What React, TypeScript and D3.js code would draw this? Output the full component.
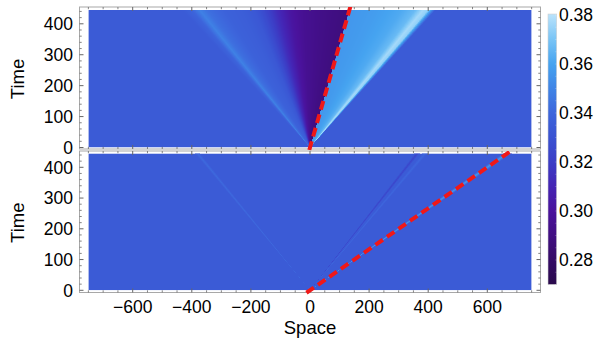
import React from "react";
import * as d3 from "d3";

// ---- data ----
const xTicks = [-600, -400, -200, 0, 200, 400, 600];
const yTicks = [0, 100, 200, 300, 400];
const colorTicks = [0.28, 0.3, 0.32, 0.34, 0.36, 0.38];

// colour map (value -> colour)
const colorStopValues = [0.27, 0.28, 0.29, 0.3, 0.31, 0.32, 0.33, 0.335, 0.34, 0.35, 0.36, 0.37, 0.38];
const colorStopColors = [
  "#2a0a4c", "#350b66", "#400e82", "#4a129c", "#4424b4", "#3c3dc6", "#3a52d2",
  "#3b5bd6", "#3d66dc", "#3f84e6", "#45a3f0", "#78c4f6", "#b8e2fb",
];

const backgroundValue = 0.335;

// self-similar profiles: value as a function of x/t
const topProfileXi = [-0.97, -0.9, -0.84, -0.78, -0.65, -0.5, -0.42, -0.35, -0.25, -0.15, -0.05, 0.1, 0.298, 0.302, 0.5, 0.7, 0.8, 0.86, 0.9, 0.93, 0.955];
const topProfileValue = [0.335, 0.339, 0.349, 0.343, 0.338, 0.336, 0.333, 0.326, 0.313, 0.302, 0.296, 0.292, 0.288, 0.356, 0.358, 0.362, 0.367, 0.377, 0.374, 0.352, 0.335];

const bottomProfileXi = [-0.875, -0.855, -0.835, 0.795, 0.815, 0.835, 0.855, 0.875, 0.895, 1.465, 1.5, 1.535];
const bottomProfileValue = [0.335, 0.341, 0.335, 0.335, 0.324, 0.335, 0.335, 0.34, 0.335, 0.335, 0.356, 0.335];

// red dashed fronts: x = speed * t
const frontSpeeds = [0.3, 1.5];

const X_DATA = [-750, 750];
const X_FRAME = [-780, 780];
const T_MAX = 445;

const W = 595;
const H = 339;

const xScale = d3.scaleLinear().domain([0, 600]).range([310, 487.3]);

const panels = [
  {
    xi: topProfileXi, val: topProfileValue, speed: frontSpeeds[0],
    y0: 147.5, y400: 23.8, frameTop: 7, frameBottom: 149,
  },
  {
    xi: bottomProfileXi, val: bottomProfileValue, speed: frontSpeeds[1],
    y0: 290.3, y400: 167.3, frameTop: 151, frameBottom: 292.5,
  },
];

const colorScale = d3
  .scaleLinear<string>()
  .domain(colorStopValues)
  .range(colorStopColors)
  .interpolate(d3.interpolateRgb)
  .clamp(true);

const XI_STEP = 0.003;
const xiSamples = d3.range(-1.0, 1.6, XI_STEP);

const FONT = "'Liberation Sans', Arial, Helvetica, sans-serif";

function Panel({ p, idx }: { p: any; idx: number }) {
  const yScale = d3.scaleLinear().domain([0, 400]).range([p.y0, p.y400]);
  const xiDomain = [p.xi[0] - 1, ...p.xi, p.xi[p.xi.length - 1] + 1];
  const valRange = [backgroundValue, ...p.val, backgroundValue];
  const profile = d3.scaleLinear().domain(xiDomain).range(valRange).clamp(true);
  const dx0 = xScale(X_DATA[0]);
  const dx1 = xScale(X_DATA[1]);
  const dyTop = yScale(T_MAX);
  const dyBot = yScale(0);
  const fx0 = xScale(X_FRAME[0]);
  const fx1 = xScale(X_FRAME[1]);
  const Tm = 470;
  const wedges = xiSamples
    .map((a) => {
      const b = a + XI_STEP;
      const v = profile((a + b) / 2);
      const c = colorScale(v);
      const pts = [
        [xScale(0), yScale(0)],
        [xScale(a * Tm), yScale(Tm)],
        [xScale(b * Tm), yScale(Tm)],
      ];
      return { pts: pts.map((q) => q.join(",")).join(" "), c, v };
    })
    .filter((w) => Math.abs(w.v - backgroundValue) > 1e-5);

  const xMinor = d3.range(-750, 751, 50).filter((v) => v % 200 !== 0);
  const yMinor = d3.range(0, 451, 20).filter((v) => v % 100 !== 0);
  const tickCol = "#666";
  const majL = 4;
  const minL = 2.2;

  const clipId = `clip${idx}`;
  const fclipId = `fclip${idx}`;
  return (
    <g>
      <defs>
        <clipPath id={clipId}>
          <rect x={dx0} y={dyTop} width={dx1 - dx0} height={dyBot - dyTop} />
        </clipPath>
        <clipPath id={fclipId}>
          <rect x={fx0} y={p.frameTop} width={fx1 - fx0} height={p.frameBottom - p.frameTop + 3} />
        </clipPath>
      </defs>
      <g clipPath={`url(#${clipId})`}>
        <rect x={dx0} y={dyTop} width={dx1 - dx0} height={dyBot - dyTop} fill={colorScale(backgroundValue)} />
        <g shapeRendering="crispEdges">
          {wedges.map((w, i) => (
            <polygon key={i} points={w.pts} fill={w.c} />
          ))}
        </g>
      </g>
      <rect x={fx0} y={p.frameTop} width={fx1 - fx0} height={p.frameBottom - p.frameTop} fill="none" stroke="#a8a8a8" strokeWidth={1} />
      {xTicks.map((v) => (
        <g key={"xm" + v}>
          <line x1={xScale(v)} x2={xScale(v)} y1={p.frameBottom} y2={p.frameBottom - majL} stroke={tickCol} />
          <line x1={xScale(v)} x2={xScale(v)} y1={p.frameTop} y2={p.frameTop + majL} stroke={tickCol} />
        </g>
      ))}
      {xMinor.map((v) => (
        <g key={"xn" + v}>
          <line x1={xScale(v)} x2={xScale(v)} y1={p.frameBottom} y2={p.frameBottom - minL} stroke={tickCol} strokeWidth={0.8} />
          <line x1={xScale(v)} x2={xScale(v)} y1={p.frameTop} y2={p.frameTop + minL} stroke={tickCol} strokeWidth={0.8} />
        </g>
      ))}
      {yTicks.map((v) => (
        <g key={"ym" + v}>
          <line x1={fx0} x2={fx0 + majL} y1={yScale(v)} y2={yScale(v)} stroke={tickCol} />
          <line x1={fx1} x2={fx1 - majL} y1={yScale(v)} y2={yScale(v)} stroke={tickCol} />
          <text x={73} y={yScale(v)} dy="0.36em" textAnchor="end" fontSize={17.5} fontFamily={FONT} fill="#000">
            {v}
          </text>
        </g>
      ))}
      {yMinor.map((v) => (
        <g key={"yn" + v}>
          <line x1={fx0} x2={fx0 + minL} y1={yScale(v)} y2={yScale(v)} stroke={tickCol} strokeWidth={0.8} />
          <line x1={fx1} x2={fx1 - minL} y1={yScale(v)} y2={yScale(v)} stroke={tickCol} strokeWidth={0.8} />
        </g>
      ))}
      <g clipPath={`url(#${fclipId})`}>
        <line
          x1={xScale(p.speed * -8)}
          y1={yScale(-8)}
          x2={xScale(p.speed * 480)}
          y2={yScale(480)}
          stroke="#f01818"
          strokeWidth={4}
          strokeDasharray="9,5"
        />
      </g>
      <text
        transform={`translate(24,${(p.frameTop + p.frameBottom) / 2 + 1}) rotate(-90)`}
        textAnchor="middle"
        fontSize={18.5}
        fontFamily={FONT}
        fill="#000"
      >
        Time
      </text>
    </g>
  );
}

export default function App() {
  const cScale = d3.scaleLinear().domain([0.28, 0.38]).range([260, 15]);
  const barX = 548;
  const barW = 8.7;
  const barTop = cScale(0.3804);
  const barBot = cScale(0.27);
  const cMinor = d3.range(0.27, 0.381, 0.005);
  return (
    <svg width={W} height={H} style={{ position: "absolute", left: 0, top: 0, background: "#fff" }}>
      <defs>
        <linearGradient id="cbar" x1="0" y1="1" x2="0" y2="0">
          {colorStopValues.map((v, i) => (
            <stop key={i} offset={(v - 0.27) / (0.3804 - 0.27)} stopColor={colorStopColors[i]} />
          ))}
        </linearGradient>
      </defs>
      <rect width={W} height={H} fill="#fff" />
      {panels.map((p, i) => (
        <Panel key={i} p={p} idx={i} />
      ))}
      {xTicks.map((v) => (
        <text key={v} x={xScale(v)} y={313} textAnchor="middle" fontSize={17.5} fontFamily={FONT} fill="#000">
          {v < 0 ? "\u2212" + Math.abs(v) : v}
        </text>
      ))}
      <text x={310} y={334} textAnchor="middle" fontSize={18.5} fontFamily={FONT} fill="#000">
        Space
      </text>
      <rect x={barX} y={barTop} width={barW} height={barBot - barTop} fill="url(#cbar)" stroke="#d0d0d0" strokeWidth={0.6} />
      {cMinor.map((v, i) => (
        <line key={i} x1={barX + barW} x2={barX + barW - 1.8} y1={cScale(v)} y2={cScale(v)} stroke="#ffffff" strokeOpacity={0.35} strokeWidth={0.6} />
      ))}
      {colorTicks.map((v) => (
        <text key={v} x={559} y={cScale(v)} dy="0.36em" fontSize={17.5} fontFamily={FONT} fill="#000">
          {v.toFixed(2)}
        </text>
      ))}
    </svg>
  );
}
